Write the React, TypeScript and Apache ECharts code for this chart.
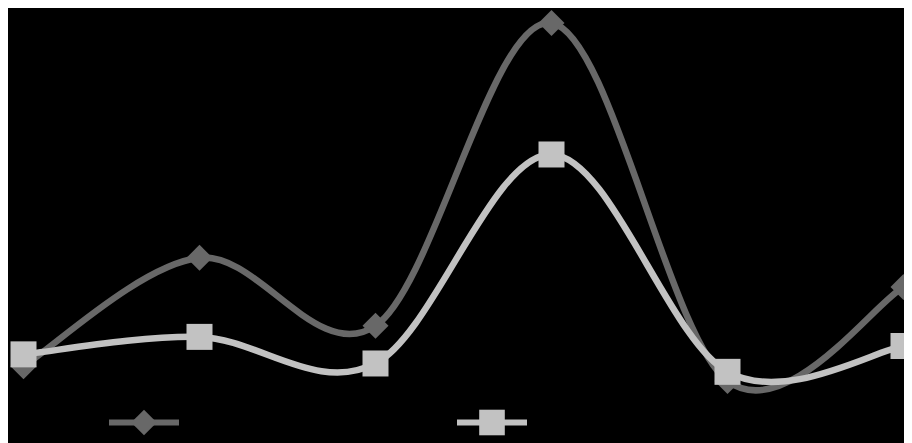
import React, { useEffect, useRef } from "react";
import * as echarts from "echarts";

// Six evenly spaced categories along the x axis
const categories = ["1", "2", "3", "4", "5", "6"];

// Dark diamond series
const seriesA = [9.7, 38.2, 20.3, 100, 5.8, 30.5];
// Light square series
const seriesB = [12.8, 17.4, 10.4, 65.4, 8.2, 15.0];

const DARK = "#686868";
const LIGHT = "#c2c2c2";
const LINE_W = 6.5;

// Catmull-Rom curve through pixel points, written as cubic Bezier path data
function catmullRomPath(pts: number[][]): string {
  let d = `M${pts[0][0]},${pts[0][1]}`;
  for (let i = 0; i < pts.length - 1; i++) {
    const p0 = pts[i - 1] || pts[i];
    const p1 = pts[i];
    const p2 = pts[i + 1];
    const p3 = pts[i + 2] || pts[i + 1];
    const c1x = p1[0] + (p2[0] - p0[0]) / 6;
    const c1y = p1[1] + (p2[1] - p0[1]) / 6;
    const c2x = p2[0] - (p3[0] - p1[0]) / 6;
    const c2y = p2[1] - (p3[1] - p1[1]) / 6;
    d += ` C${c1x},${c1y} ${c2x},${c2y} ${p2[0]},${p2[1]}`;
  }
  return d;
}

function curveSeries(name: string, values: number[], color: string) {
  return {
    name,
    type: "custom",
    data: [[0, values[0]]],
    encode: { x: 0, y: 1 },
    clip: false,
    silent: true,
    renderItem: (_params: any, api: any) => {
      const pts = values.map((v, i) => api.coord([i, v]));
      return {
        type: "path",
        shape: { pathData: catmullRomPath(pts) },
        style: {
          stroke: color,
          lineWidth: LINE_W,
          fill: "none",
          lineJoin: "round",
        },
      };
    },
  };
}

export default function App() {
  const ref = useRef<HTMLDivElement>(null);

  useEffect(() => {
    document.body.style.overflow = "hidden";
    if (!ref.current) return;
    const chart = echarts.init(ref.current, null, { renderer: "svg" });
    const legendBase = {
      top: 393.5,
      itemWidth: 70,
      itemHeight: 32,
      lineStyle: { width: 6, opacity: 1 },
      formatter: () => "",
    };
    chart.setOption({
      animation: false,
      backgroundColor: "#000000",
      grid: { left: 15.5, right: 8.5, top: 15, bottom: 40 },
      xAxis: {
        type: "category",
        data: categories,
        boundaryGap: false,
        show: false,
      },
      yAxis: {
        type: "value",
        min: 0,
        max: 100,
        show: false,
        splitLine: { show: false },
      },
      legend: [
        { ...legendBase, data: ["A"], left: 93 },
        { ...legendBase, data: ["B"], left: 441 },
      ],
      series: [
        curveSeries("A curve", seriesA, DARK),
        {
          name: "A",
          type: "line",
          data: seriesA,
          symbol: "diamond",
          symbolSize: 26,
          lineStyle: { color: DARK, width: LINE_W, opacity: 0 },
          itemStyle: { color: DARK },
        },
        curveSeries("B curve", seriesB, LIGHT),
        {
          name: "B",
          type: "line",
          data: seriesB,
          symbol: "rect",
          symbolSize: 26,
          lineStyle: { color: LIGHT, width: LINE_W, opacity: 0 },
          itemStyle: { color: LIGHT },
        },
      ],
    });
    return () => chart.dispose();
  }, []);

  return <div ref={ref} style={{ width: 904, height: 435 }} />;
}
